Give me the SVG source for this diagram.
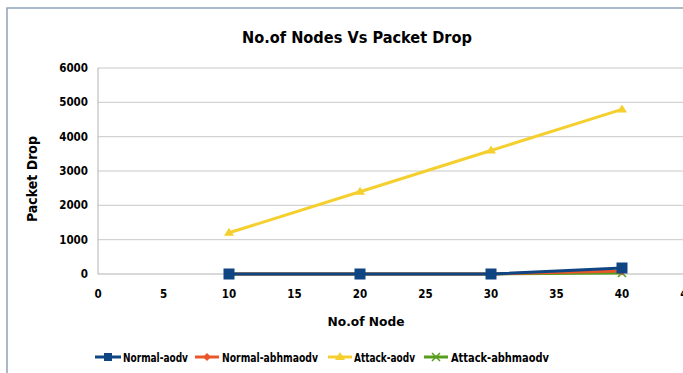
<svg xmlns="http://www.w3.org/2000/svg" width="683" height="373" viewBox="0 0 683 373">
<style>
.t{font-family:"DejaVu Sans Condensed","DejaVu Sans",sans-serif;font-weight:bold;fill:#000}
.tick{font-size:11.5px}
.leg{font-size:12.5px}
.grid{stroke:#c8c8c8;stroke-width:1}
.axis{stroke:#b3b3b3;stroke-width:1}
.s{fill:none;stroke-width:3;stroke-linejoin:round}
</style>
<rect x="0" y="0" width="683" height="373" fill="#fff"/>
<path d="M7,373 V8 H683" fill="none" stroke="#8ea2b8" stroke-width="1.5"/>
<text class="t" x="357" y="43" font-size="16.5" text-anchor="middle" textLength="230" lengthAdjust="spacingAndGlyphs">No.of Nodes Vs Packet Drop</text>
<g id="grid">
<line class="grid" x1="98" y1="68" x2="683" y2="68"/>
<line class="grid" x1="98" y1="102.3" x2="683" y2="102.3"/>
<line class="grid" x1="98" y1="136.7" x2="683" y2="136.7"/>
<line class="grid" x1="98" y1="171" x2="683" y2="171"/>
<line class="grid" x1="98" y1="205.3" x2="683" y2="205.3"/>
<line class="grid" x1="98" y1="239.7" x2="683" y2="239.7"/>
<line class="axis" x1="98" y1="274" x2="683" y2="274"/>
<line class="axis" x1="98" y1="68" x2="98" y2="274"/>
</g>
<g id="yticks" class="t tick" text-anchor="end">
<text x="88" y="72">6000</text>
<text x="88" y="106.3">5000</text>
<text x="88" y="140.7">4000</text>
<text x="88" y="175">3000</text>
<text x="88" y="209.3">2000</text>
<text x="88" y="243.7">1000</text>
<text x="88" y="278">0</text>
</g>
<g id="xticks" class="t tick" text-anchor="middle">
<text x="98" y="298">0</text>
<text x="163.5" y="298">5</text>
<text x="229" y="298">10</text>
<text x="294.5" y="298">15</text>
<text x="360" y="298">20</text>
<text x="425.5" y="298">25</text>
<text x="491" y="298">30</text>
<text x="556.5" y="298">35</text>
<text x="622" y="298">40</text>
<text x="687.5" y="298">45</text>
</g>
<text class="t" x="366" y="326" font-size="13" text-anchor="middle" textLength="77" lengthAdjust="spacingAndGlyphs">No.of Node</text>
<text class="t" x="37" y="179" font-size="13.5" text-anchor="middle" transform="rotate(-90 37 179)" textLength="86" lengthAdjust="spacingAndGlyphs">Packet Drop</text>
<g id="series">
<g id="attack-aodv">
<polyline class="s" stroke="#f5cf2e" points="229,232.8 360,191.7 491,150.5 622,109.4"/>
<path fill="#f5cf2e" d="M229,227.8 l5,8 h-10z M360,186.7 l5,8 h-10z M491,145.5 l5,8 h-10z M622,104.4 l5,8 h-10z"/>
</g>
<g id="attack-abhmaodv">
<polyline class="s" stroke="#579d1c" points="229,274 360,274 491,274 622,273"/>
<path stroke="#579d1c" stroke-width="1.5" d="M618,269 l8,8 M626,269 l-8,8"/>
</g>
<g id="normal-abhmaodv">
<polyline class="s" stroke="#e8562a" points="229,274 360,274 491,274 622,271"/>
<path fill="#e8562a" d="M622,266.5 l4,4.5 l-4,4.5 l-4,-4.5z"/>
</g>
<g id="normal-aodv">
<polyline class="s" stroke="#0f4583" stroke-width="3.5" points="229,274 360,274 491,274 622,268"/>
<path fill="#0f4583" d="M223.5,268.5 h11 v11 h-11z M354.5,268.5 h11 v11 h-11z M485.5,268.5 h11 v11 h-11z M616.5,262.5 h11 v11 h-11z"/>
</g>
</g>
<g id="legend">
<g id="leg-normal-aodv">
<line x1="95" y1="357" x2="121" y2="357" stroke="#0f4583" stroke-width="3"/>
<rect x="104" y="353" width="8" height="8" fill="#0f4583"/>
<text class="t leg" x="123" y="361.5" textLength="65" lengthAdjust="spacingAndGlyphs">Normal-aodv</text>
</g>
<g id="leg-normal-abhmaodv">
<line x1="195" y1="357" x2="219" y2="357" stroke="#e8562a" stroke-width="3"/>
<path d="M207,353 l4,4 l-4,4 l-4,-4z" fill="#e8562a"/>
<text class="t leg" x="222" y="361.5" textLength="96" lengthAdjust="spacingAndGlyphs">Normal-abhmaodv</text>
</g>
<g id="leg-attack-aodv">
<line x1="328" y1="357" x2="352" y2="357" stroke="#f5cf2e" stroke-width="3"/>
<path d="M340,352 l5,8 h-10z" fill="#f5cf2e"/>
<text class="t leg" x="354" y="361.5" textLength="61" lengthAdjust="spacingAndGlyphs">Attack-aodv</text>
</g>
<g id="leg-attack-abhmaodv">
<line x1="424" y1="357" x2="448" y2="357" stroke="#579d1c" stroke-width="3"/>
<path d="M432,353 l8,8 M440,353 l-8,8" stroke="#579d1c" stroke-width="1.5"/>
<text class="t leg" x="451" y="361.5" textLength="98" lengthAdjust="spacingAndGlyphs">Attack-abhmaodv</text>
</g>
</g>
</svg>
